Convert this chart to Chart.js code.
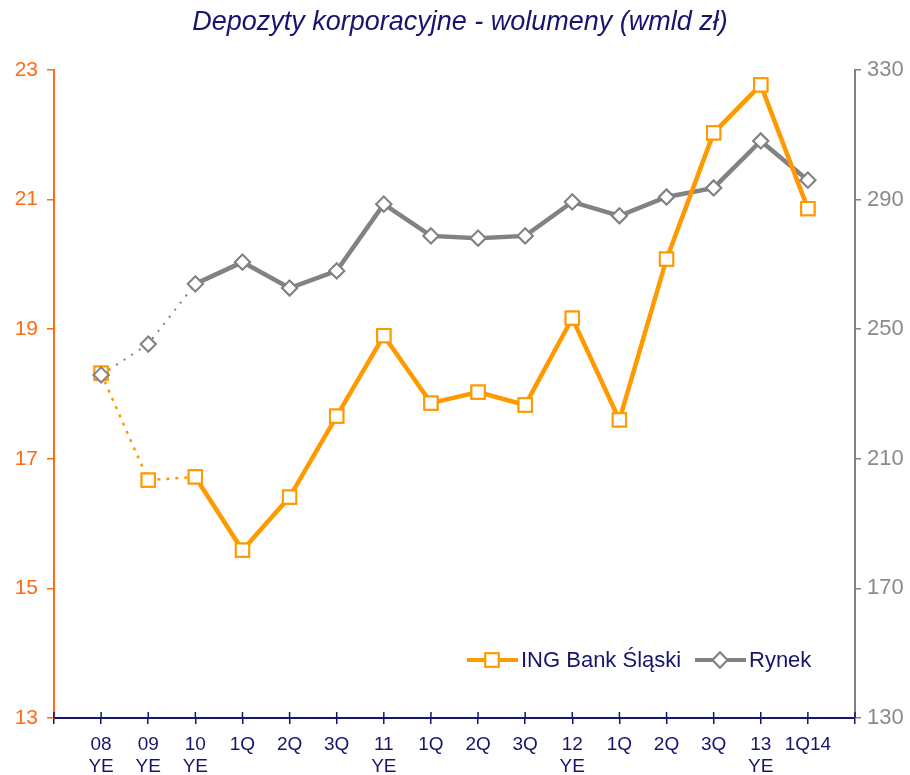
<!DOCTYPE html>
<html>
<head>
<meta charset="utf-8">
<script src="https://cdn.jsdelivr.net/npm/chart.js@4.4.1/dist/chart.umd.min.js"></script>
<style>
  html, body { margin: 0; padding: 0; background: #fff; }
  #wrap { width: 910px; height: 775px; position: relative; }
</style>
</head>
<body>
<div id="wrap"><canvas id="chart"></canvas></div>
<script>
/* ─── Data ───────────────────────────────────────────────────── */
const categories  = ['08\nYE', '09\nYE', '10\nYE', '1Q', '2Q', '3Q', '11\nYE', '1Q', '2Q', '3Q',
                     '12\nYE', '1Q', '2Q', '3Q', '13\nYE', '1Q14'];
const ingValues   = [18.32, 16.67, 16.72, 15.59, 16.41, 17.66, 18.90, 17.86, 18.03, 17.83,
                     19.17, 17.60, 20.08, 22.03, 22.77, 20.86];
const rynekValues = [235.9, 245.4, 264.0, 270.7, 262.7, 268.0, 288.6, 278.8, 278.1, 278.8,
                     289.3, 285.0, 290.8, 293.6, 308.1, 296.0];
const leftTicks   = [13, 15, 17, 19, 21, 23];
const rightTicks  = [130, 170, 210, 250, 290, 330];

const TITLE  = 'Depozyty korporacyjne - wolumeny (wmld zł)';
const NAVY   = '#15156e';
const ORANGE = '#ff9900';
const ORANGE_AX = '#ff6a13';
const GREY   = '#828282';
const FONT   = 'Arial, "Liberation Sans", sans-serif';

// first two segments (08 YE -> 09 YE -> 10 YE) are drawn dotted & thin
const dotted = (ctx, a, b) => ctx.p0DataIndex <= 2 ? a : b;

/* ─── Plugins ────────────────────────────────────────────────── */
const decor = {
  id: 'decor',
  afterDatasetsDraw(chart) {
    const { ctx } = chart;
    // markers on top of all lines
    chart.data.datasets.forEach((ds, i) => {
      chart.getDatasetMeta(i).data.forEach(p => { if (!p.skip) p.draw(ctx); });
    });
  },
  afterDraw(chart) {
    const { ctx, chartArea, scales } = chart;
    ctx.save();
    // title
    ctx.font = `italic 27px ${FONT}`;
    ctx.fillStyle = NAVY;
    ctx.textAlign = 'center';
    ctx.textBaseline = 'middle';
    ctx.fillText(TITLE, 460, 22);

    // x ticks crossing the axis upwards
    ctx.strokeStyle = NAVY;
    ctx.lineWidth = 1.5;
    scales.x.ticks.forEach((t, i) => {
      const x = scales.x.getPixelForTick(i);
      ctx.beginPath();
      ctx.moveTo(x, chartArea.bottom);
      ctx.lineTo(x, chartArea.bottom - 6);
      ctx.stroke();
    });

    // legend
    const ly = 660;
    const items = [
      { x: 467, label: 'ING Bank Śląski', color: ORANGE, style: 'rect', r: 9.4 },
      { x: 695, label: 'Rynek', color: GREY, style: 'rectRot', r: 7.5 },
    ];
    items.forEach(it => {
      ctx.strokeStyle = it.color;
      ctx.lineWidth = 4;
      ctx.beginPath();
      ctx.moveTo(it.x, ly);
      ctx.lineTo(it.x + 51, ly);
      ctx.stroke();
      ctx.fillStyle = '#fff';
      ctx.lineWidth = 2;
      Chart.helpers.drawPoint(ctx, { pointStyle: it.style, radius: it.r, borderWidth: 2 }, it.x + 25, ly);
      ctx.fill();
      ctx.stroke();
      ctx.font = `22px ${FONT}`;
      ctx.fillStyle = NAVY;
      ctx.textAlign = 'left';
      ctx.fillText(it.label, it.x + 54, ly + 1);
    });
    ctx.restore();
  }
};

/* ─── Chart ──────────────────────────────────────────────────── */
new Chart(document.getElementById('chart'), {
  type: 'line',
  data: {
    labels: ['', ...categories, ''],
    datasets: [
      {
        label: 'ING Bank Śląski',
        data: [null, ...ingValues, null],
        yAxisID: 'y',
        borderColor: ORANGE,
        borderWidth: 4.5,
        pointStyle: 'rect',
        pointRadius: 9.4,
        pointBorderWidth: 2,
        pointBorderColor: ORANGE,
        pointBackgroundColor: '#fff',
        tension: 0,
        order: 1,
        segment: {
          borderDash: ctx => dotted(ctx, [3, 6], undefined),
          borderWidth: ctx => dotted(ctx, 2.5, undefined),
        },
      },
      {
        label: 'Rynek',
        data: [null, ...rynekValues, null],
        yAxisID: 'y1',
        borderColor: GREY,
        borderWidth: 4.5,
        pointStyle: 'rectRot',
        pointRadius: 7.5,
        pointBorderWidth: 2,
        pointBorderColor: GREY,
        pointBackgroundColor: '#fff',
        tension: 0,
        order: 2,
        segment: {
          borderDash: ctx => dotted(ctx, [2, 7], undefined),
          borderWidth: ctx => dotted(ctx, 2, undefined),
        },
      },
    ],
  },
  options: {
    responsive: true,
    maintainAspectRatio: false,
    animation: false,
    layout: { padding: { top: 70, left: 0, right: 0, bottom: 0 } },
    plugins: { legend: { display: false }, tooltip: { enabled: false }, title: { display: false } },
    scales: {
      x: {
        type: 'category',
        offset: false,
        afterFit: s => { s.height = 57; },
        grid: { drawOnChartArea: false, drawTicks: true, tickLength: 6, color: NAVY, lineWidth: 1.5 },
        border: { color: NAVY, width: 2 },
        ticks: {
          autoSkip: false,
          maxRotation: 0,
          padding: 9,
          color: NAVY,
          font: { family: FONT, size: 19 },
          callback(v) { return this.getLabelForValue(v).split('\n'); },
        },
      },
      y: {
        position: 'left',
        min: 13, max: 23,
        afterFit: s => { s.width = 54; },
        afterBuildTicks: s => { s.ticks = leftTicks.map(v => ({ value: v })); },
        grid: { drawOnChartArea: false, drawTicks: true, tickLength: 7, color: ORANGE_AX, lineWidth: 1.5 },
        border: { color: ORANGE_AX, width: 2 },
        ticks: { padding: 9, color: ORANGE_AX, font: { family: FONT, size: 21 } },
      },
      y1: {
        position: 'right',
        min: 130, max: 330,
        afterFit: s => { s.width = 55; },
        afterBuildTicks: s => { s.ticks = rightTicks.map(v => ({ value: v })); },
        grid: { drawOnChartArea: false, drawTicks: true, tickLength: 6, color: GREY, lineWidth: 1.5 },
        border: { color: GREY, width: 2 },
        ticks: { padding: 6, color: '#8a8a8a', font: { family: FONT, size: 22 } },
      },
    },
  },
  plugins: [decor],
});
</script>
</body>
</html>
